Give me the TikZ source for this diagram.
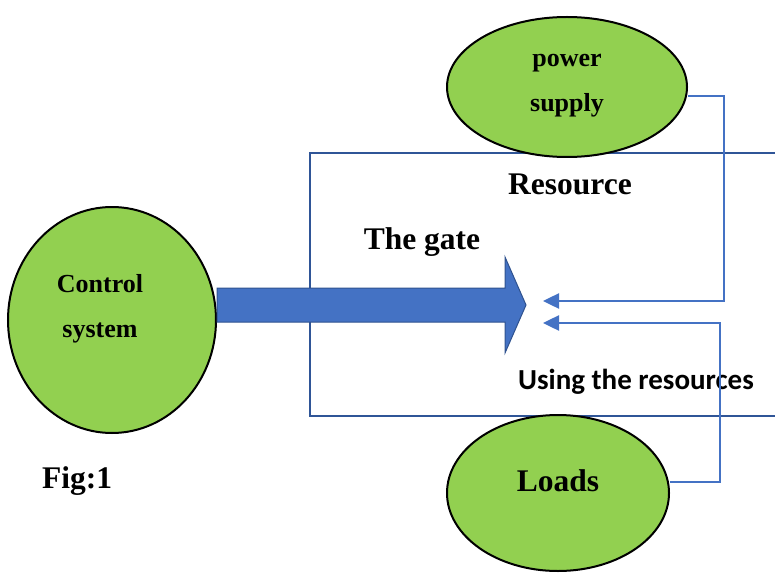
\documentclass[tikz,border=0pt]{standalone}
\usepackage{fontspec}
\setmainfont{Liberation Serif}
\newfontfamily\calfont{Carlito}
\usetikzlibrary{arrows, arrows.meta, shapes.geometric}
\definecolor{leafgreen}{HTML}{92D050}
\definecolor{gateblue}{HTML}{4472C4}
\definecolor{gateedge}{HTML}{2F528F}
\definecolor{framblue}{HTML}{2F5597}

\begin{document}
\begin{tikzpicture}[x=1pt, y=-1pt,
    blob/.style={ellipse, draw=black, line width=2pt, fill=leafgreen, inner sep=0pt},
    bigtext/.style={font=\bfseries\fontsize{31.5}{38}\selectfont},
    smalltext/.style={font=\bfseries\fontsize{26}{45}\selectfont, align=center},
    feed/.style={draw=gateblue, line width=2.5pt, -{Triangle[length=16pt, width=15pt]}}]
    \useasboundingbox (0,0) rectangle (775,572);
    % frame of the gate
    \draw[framblue, line width=2pt] (775,153) -- (310,153) -- (310,416) -- (775,416);
    % the three blocks
    \node[blob, minimum width=208pt, minimum height=226pt] (cs) at (112,320){};
    \node[blob, minimum width=240pt, minimum height=140pt] (ps) at (567,87){};
    \node[blob, minimum width=222pt, minimum height=156pt] (ld) at (558,493){};
    \node[smalltext] (cslabel) at (100,309){Control\\system};
    \node[smalltext] (pslabel) at (567,86){power\\supply};
    \node[bigtext] (ldlabel) at (558,481){Loads};
    % the gate arrow
    \draw[gateedge, fill=gateblue, line width=1pt] (cs.east |- 0,288) -- (505,288) -- (505,257)
        -- (526,305) -- (505,353) -- (505,322) -- (cs.east |- 0,322) -- cycle;
    \node[bigtext] (gate) at (422,242){The gate};
    \node[bigtext] (res) at (570,184){Resource};
    \node[font=\calfont\bfseries\fontsize{29}{35}\selectfont] (using) at (636,382){Using the resources};
    \node[bigtext] (fig) at (77,481){Fig:1};
    % feeds into the gate
    \coordinate (in1) at (543,301);
    \coordinate (in2) at (543,323);
    \draw[feed] ([yshift=-9pt]ps.east) -- (724,96) |- (in1);
    \draw[feed] ([yshift=11pt]ld.east) -- (720,482) |- (in2);
\end{tikzpicture}
\end{document}
